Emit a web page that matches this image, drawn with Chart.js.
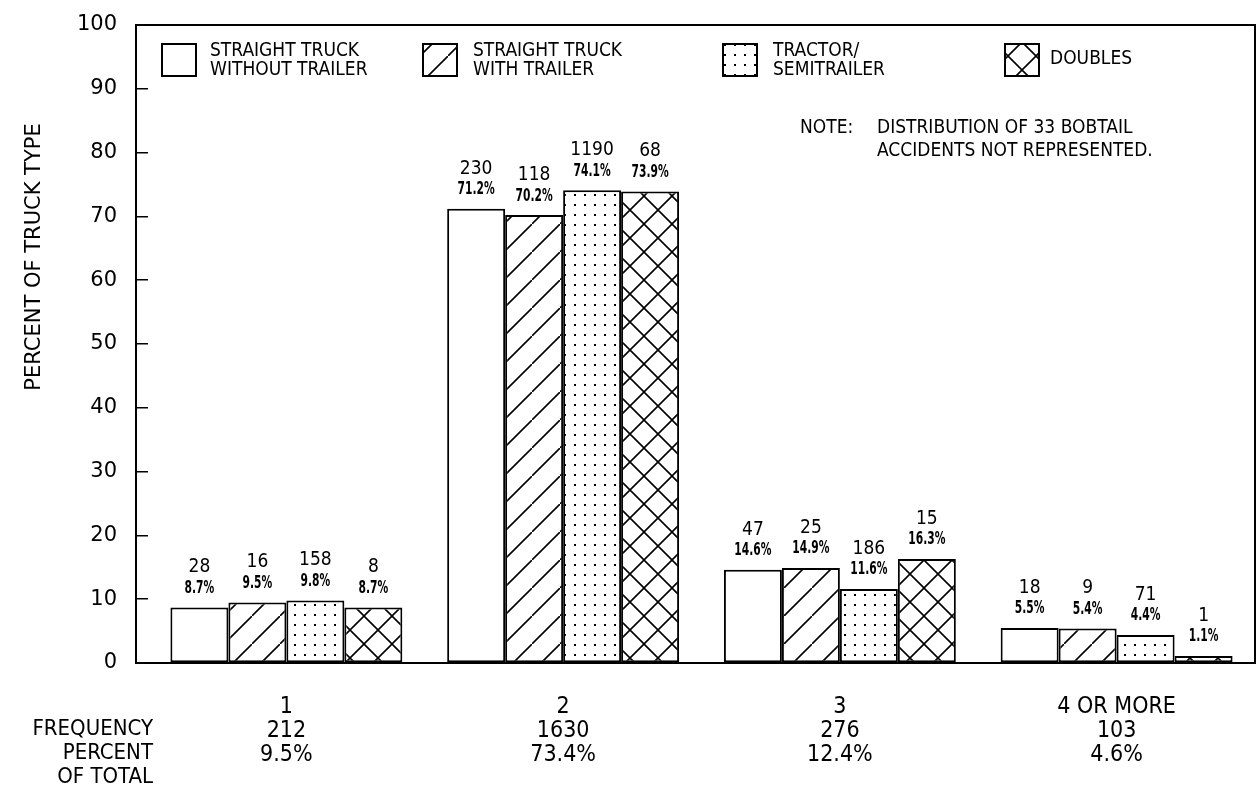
<!DOCTYPE html>
<html>
<head>
<meta charset="utf-8">
<script src="https://cdn.jsdelivr.net/npm/chart.js@4.4.0/dist/chart.umd.min.js"></script>
<style>
  body { margin: 0; background: #fff; }
  #wrap { width: 1259px; height: 795px; }
</style>
</head>
<body>
<div id="wrap"><canvas id="truckChart"></canvas></div>
<script>
// categories: number of vehicles involved
const categories = ["1", "2", "3", "4 OR MORE"];
const frequency = ["212", "1630", "276", "103"];
const percentOfTotal = ["9.5%", "73.4%", "12.4%", "4.6%"];

// percent of truck type (bar heights)
const withoutTrailer = [8.7, 71.2, 14.6, 5.5];
const withTrailer = [9.5, 70.2, 14.9, 5.4];
const tractorSemi = [9.8, 74.1, 11.6, 4.4];
const doubles = [8.7, 73.9, 16.3, 1.1];

// counts printed above bars
const withoutTrailerCounts = [28, 230, 47, 18];
const withTrailerCounts = [16, 118, 25, 9];
const tractorSemiCounts = [158, 1190, 186, 71];
const doublesCounts = [8, 68, 15, 1];

const seriesNames = [
  ["STRAIGHT TRUCK", "WITHOUT TRAILER"],
  ["STRAIGHT TRUCK", "WITH TRAILER"],
  ["TRACTOR/", "SEMITRAILER"],
  ["DOUBLES"]
];
const yTicks = [0, 10, 20, 30, 40, 50, 60, 70, 80, 90, 100];

const COND = "'DejaVu Sans Condensed', 'DejaVu Sans', sans-serif";

function makePattern(kind) {
  let c = document.createElement("canvas");
  let g = c.getContext("2d");
  if (kind == "diag") {
    c.width = 28; c.height = 28;
    g.fillStyle = "#fff"; g.fillRect(0, 0, 28, 28);
    g.strokeStyle = "#000"; g.lineWidth = 1.6;
    g.beginPath();
    g.moveTo(-2, 30); g.lineTo(30, -2);
    g.stroke();
  } else if (kind == "dots") {
    c.width = 10; c.height = 10;
    g.fillStyle = "#fff"; g.fillRect(0, 0, 10, 10);
    g.fillStyle = "#000";
    g.fillRect(4, 4, 2, 2);
  } else if (kind == "cross") {
    c.width = 28; c.height = 28;
    g.fillStyle = "#fff"; g.fillRect(0, 0, 28, 28);
    g.strokeStyle = "#000"; g.lineWidth = 1.6;
    g.beginPath();
    g.moveTo(-2, 30); g.lineTo(30, -2);
    g.moveTo(-2, -2); g.lineTo(30, 30);
    g.stroke();
  }
  return g.createPattern(c, "repeat");
}

const fills = ["#ffffff", makePattern("diag"), makePattern("dots"), makePattern("cross")];
const counts = [withoutTrailerCounts, withTrailerCounts, tractorSemiCounts, doublesCounts];

// frame, value labels, legend, note and row headings
const decorations = {
  id: "decorations",
  afterDraw(chart) {
    const ctx = chart.ctx;
    const a = chart.chartArea;
    ctx.save();

    // value labels above bars
    ctx.fillStyle = "#000";
    ctx.textAlign = "center";
    ctx.textBaseline = "middle";
    chart.data.datasets.forEach((ds, i) => {
      chart.getDatasetMeta(i).data.forEach((bar, j) => {
        ctx.font = "19px " + COND;
        ctx.fillText(String(counts[i][j]), bar.x, bar.y - 40);
        ctx.save();
        ctx.translate(bar.x, bar.y - 19);
        ctx.scale(0.7, 1);
        ctx.font = "bold 17px " + COND;
        ctx.fillText(ds.data[j].toFixed(1) + "%", 0, 0);
        ctx.restore();
      });
    });

    // frame
    ctx.strokeStyle = "#000";
    ctx.lineWidth = 2;
    ctx.strokeRect(a.left - 12, a.top, a.right - a.left + 12, a.bottom - a.top);

    // legend
    const boxX = [162, 423, 723, 1005];
    const textX = [210, 473, 773, 1050];
    ctx.textAlign = "left";
    ctx.font = "19px " + COND;
    seriesNames.forEach((lines, i) => {
      ctx.fillStyle = fills[i];
      ctx.fillRect(boxX[i], 44, 34, 32);
      ctx.lineWidth = 2;
      ctx.strokeRect(boxX[i], 44, 34, 32);
      ctx.fillStyle = "#000";
      if (lines.length == 1) {
        ctx.fillText(lines[0], textX[i], 59);
      } else {
        ctx.fillText(lines[0], textX[i], 51);
        ctx.fillText(lines[1], textX[i], 70);
      }
    });

    // note
    ctx.font = "19px " + COND;
    ctx.fillText("NOTE:", 800, 128);
    ctx.fillText("DISTRIBUTION OF 33 BOBTAIL", 877, 128);
    ctx.fillText("ACCIDENTS NOT REPRESENTED.", 877, 151);

    // row headings under the x axis
    ctx.textAlign = "right";
    ctx.font = "22px " + COND;
    ctx.fillText("FREQUENCY", 153, 729);
    ctx.fillText("PERCENT", 153, 753);
    ctx.fillText("OF TOTAL", 153, 777);

    // y title
    ctx.save();
    ctx.translate(35, 257);
    ctx.rotate(-Math.PI / 2);
    ctx.textAlign = "center";
    ctx.font = "21px 'DejaVu Sans', sans-serif";
    ctx.fillText("PERCENT OF TRUCK TYPE", 0, 0);
    ctx.restore();

    ctx.restore();
  }
};

const ctx = document.getElementById("truckChart").getContext("2d");
const chart1 = new Chart(ctx, {
  type: "bar",
  data: {
    labels: categories.map((c, i) => [c, frequency[i], percentOfTotal[i]]),
    datasets: [withoutTrailer, withTrailer, tractorSemi, doubles].map((d, i) => ({
      label: seriesNames[i].join(" "),
      data: d,
      backgroundColor: fills[i],
      borderColor: "#000",
      borderWidth: 2,
      borderSkipped: false,
      barPercentage: 1,
      categoryPercentage: 0.838
    }))
  },
  options: {
    responsive: true,
    maintainAspectRatio: false,
    animation: false,
    layout: { padding: { top: 25, right: 4, left: 0, bottom: 0 } },
    plugins: {
      legend: { display: false },
      tooltip: { enabled: false }
    },
    scales: {
      x: {
        grid: { display: false },
        border: { display: false },
        ticks: {
          color: "#000",
          padding: 24,
          maxRotation: 0,
          font: { family: COND, size: 23, lineHeight: 1.045 }
        },
        afterFit(scale) {
          scale.height = 132;
          scale.paddingLeft = 0;
          scale.paddingRight = 0;
        }
      },
      y: {
        min: 0,
        max: 100,
        afterBuildTicks(scale) { scale.ticks = yTicks.map(v => ({ value: v })); },
        grid: {
          drawOnChartArea: false,
          drawTicks: true,
          tickLength: 12,
          color: "#000",
          lineWidth: 1.5
        },
        border: { display: false },
        ticks: {
          color: "#000",
          padding: 19,
          font: { family: "'DejaVu Sans', sans-serif", size: 21 }
        },
        afterFit(scale) {
          scale.width = 148;
          scale.paddingTop = 0;
          scale.paddingBottom = 0;
        }
      }
    }
  },
  plugins: [decorations]
});
</script>
</body>
</html>
